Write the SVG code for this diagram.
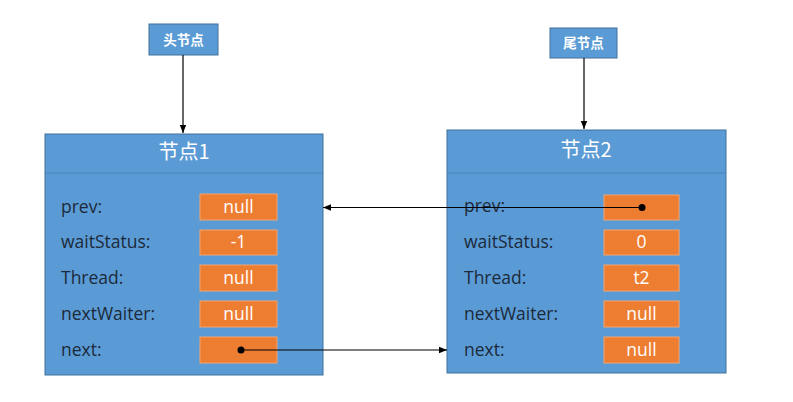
<svg xmlns="http://www.w3.org/2000/svg" width="793" height="402" viewBox="0 0 793 402">
<defs>
<style>
.tag{fill:#5b9bd5;stroke:#41719c;stroke-width:1}
.tagt{font-family:"Noto Sans CJK SC",sans-serif;font-size:13.5px;fill:#fff;text-anchor:middle;font-weight:bold}
.node{fill:#5b9bd5;stroke:#41719c;stroke-width:1}
.sep{stroke:#4a84bd;stroke-width:1}
.title{font-family:"Noto Sans CJK SC",sans-serif;font-size:20px;fill:#fff;text-anchor:middle}
.lbl{font-family:"Open Sans","Liberation Sans",sans-serif;font-size:17.5px;fill:#1b2a3a}
.val{fill:#ed7d31;stroke:#f4a46c;stroke-width:1}
.valt{font-family:"Open Sans","Liberation Sans",sans-serif;font-size:17.5px;fill:#fff;text-anchor:middle}
.ln{stroke:#000;stroke-width:1.2;fill:none}
</style>
<marker id="ah" viewBox="0 0 10 10" refX="10" refY="5" markerWidth="7" markerHeight="7" orient="auto-start-reverse">
<path d="M0,1 L10,5 L0,9 z" fill="#000"/>
</marker>
</defs>
<rect width="793" height="402" fill="#fff"/>
<g id="head">
<rect class="tag" x="149" y="24" width="69" height="31"/>
<text class="tagt" x="183.5" y="44.5">头节点</text>
</g>
<g id="tail">
<rect class="tag" x="550" y="28" width="67" height="30"/>
<text class="tagt" x="583.5" y="48">尾节点</text>
</g>
<g id="node1">
<rect class="node" x="45" y="134" width="278" height="241"/>
<line class="sep" x1="45" y1="173" x2="323" y2="173"/>
<text class="title" x="184" y="159">节点1</text>
<text class="lbl" x="61" y="213">prev:</text>
<text class="lbl" x="61" y="248">waitStatus:</text>
<text class="lbl" x="61" y="284">Thread:</text>
<text class="lbl" x="61" y="320">nextWaiter:</text>
<text class="lbl" x="61" y="356">next:</text>
<rect class="val" x="200" y="194" width="77" height="26"/>
<rect class="val" x="200" y="230" width="77" height="25"/>
<rect class="val" x="200" y="265" width="77" height="26"/>
<rect class="val" x="200" y="301" width="77" height="26"/>
<rect class="val" x="200" y="337" width="77" height="26"/>
<text class="valt" x="238.5" y="213">null</text>
<text class="valt" x="238.5" y="248">-1</text>
<text class="valt" x="238.5" y="284">null</text>
<text class="valt" x="238.5" y="320">null</text>
</g>
<g id="node2">
<rect class="node" x="447" y="130" width="279" height="243"/>
<line class="sep" x1="447" y1="173" x2="726" y2="173"/>
<text class="title" x="586" y="157">节点2</text>
<text class="lbl" x="464" y="212">prev:</text>
<text class="lbl" x="464" y="248">waitStatus:</text>
<text class="lbl" x="464" y="284">Thread:</text>
<text class="lbl" x="464" y="320">nextWaiter:</text>
<text class="lbl" x="464" y="356">next:</text>
<rect class="val" x="604" y="195" width="75" height="25"/>
<rect class="val" x="604" y="230" width="75" height="25"/>
<rect class="val" x="604" y="265" width="75" height="26"/>
<rect class="val" x="604" y="301" width="75" height="26"/>
<rect class="val" x="604" y="337" width="75" height="26"/>
<text class="valt" x="641.5" y="248">0</text>
<text class="valt" x="641.5" y="284">t2</text>
<text class="valt" x="641.5" y="320">null</text>
<text class="valt" x="641.5" y="356">null</text>
</g>
<g id="connectors">
<line class="ln" x1="183" y1="55" x2="183" y2="133" marker-end="url(#ah)"/>
<line class="ln" x1="584" y1="58" x2="584" y2="129" marker-end="url(#ah)"/>
<line class="ln" x1="642" y1="207.5" x2="323" y2="207.5" marker-end="url(#ah)"/>
<circle cx="642" cy="207.5" r="3.5" fill="#000"/>
<line class="ln" x1="241" y1="350" x2="447" y2="350" marker-end="url(#ah)"/>
<circle cx="241" cy="350" r="3.5" fill="#000"/>
</g>
</svg>
